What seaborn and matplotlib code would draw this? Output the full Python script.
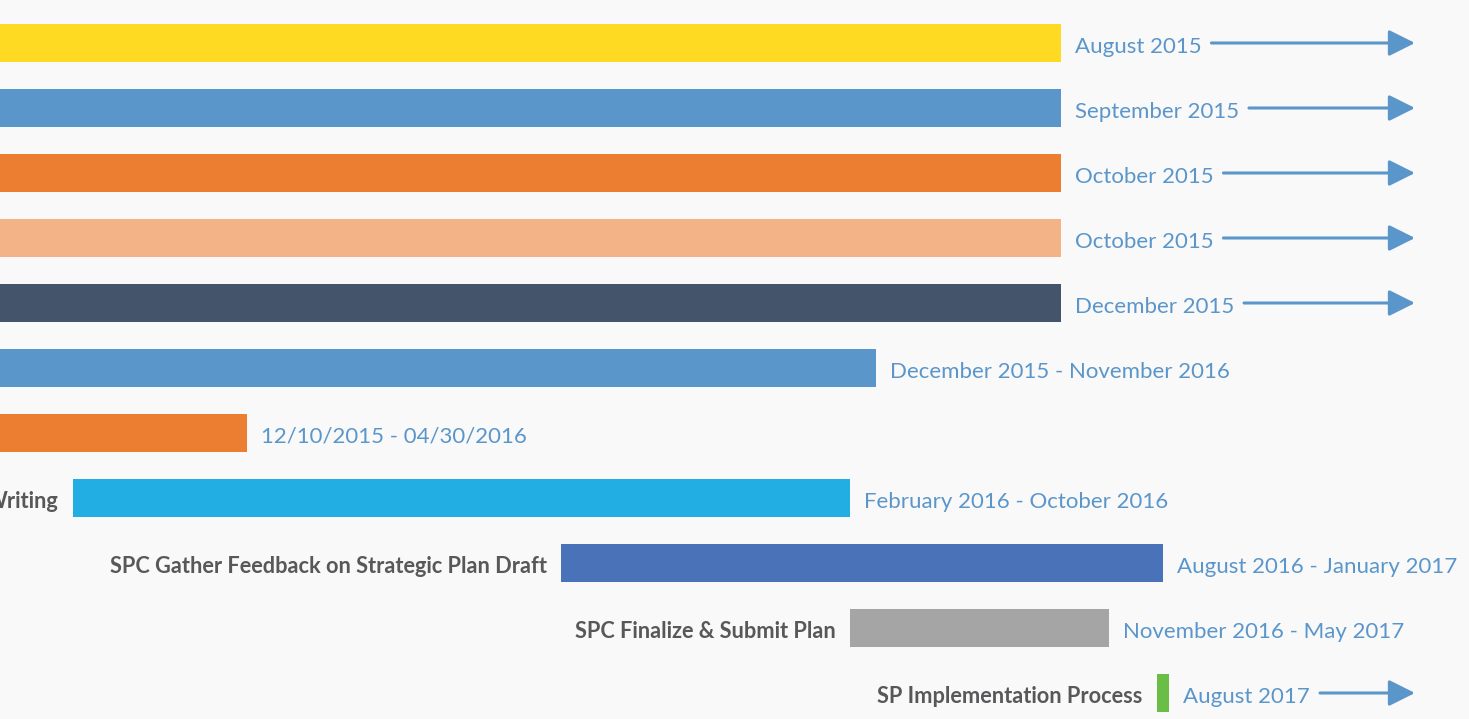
import numpy as np
import pandas as pd
import seaborn as sns
import matplotlib.pyplot as plt
from matplotlib.patches import FancyArrowPatch

# timeline in months (Jan 2015 = 0); view starts at 13
rows = list(range(11))
starts = [7.0, 8.0, 9.0, 9.0, 11.0, 11.0, 11.3, 13.76, 18.84, 21.85, 25.05]
ends = [24.05, 24.05, 24.05, 24.05, 24.05, 22.12, 15.57, 21.85, 25.11, 24.55, 25.18]
tasks = ["", "", "", "", "", "", "", "Writing",
         "SPC Gather Feedback on Strategic Plan Draft",
         "SPC Finalize & Submit Plan",
         "SP Implementation Process"]
dates = ["August 2015", "September 2015", "October 2015", "October 2015",
         "December 2015", "December 2015 - November 2016",
         "12/10/2015 - 04/30/2016", "February 2016 - October 2016",
         "August 2016 - January 2017", "November 2016 - May 2017",
         "August 2017"]
ongoing = [True, True, True, True, True, False, False, False, False, False, True]
colors = ["#FEDA22", "#5B96CB", "#EC7E32", "#F4B287", "#44546A", "#5B96CB",
          "#EC7E32", "#22AEE3", "#4A72B8", "#A5A5A5", "#6ABE45"]

df = pd.DataFrame({"row": rows, "start": starts, "end": ends})

sns.set_style("white")
plt.rcParams["font.family"] = ["Lato", "DejaVu Sans"]

fig = plt.figure(figsize=(14.69, 7.19), dpi=100)
fig.patch.set_facecolor("#F9F9F9")
ax = fig.add_axes([0, 0, 1, 1])
ax.set_facecolor("#F9F9F9")

sns.barplot(data=df, x="end", y="row", hue="row", orient="h",
            palette=colors, legend=False, width=0.57, ax=ax, saturation=1)

# turn the plain bars into gantt spans
for p, s, e in zip(ax.patches, starts, ends):
    p.set_x(s)
    p.set_width(e - s)
    p.set_linewidth(0)

x0 = 13.0
ax.set_xlim(x0, x0 + 1469 / 96)
ax.set_ylim(676 / 65, -43 / 65)
ax.axis("off")

text_c = "#5B96CB"
gap = 14 / 96
labels = []
for i in rows:
    t = ax.text(ends[i] + gap, i + 0.06, dates[i], va="center", ha="left",
                fontsize=16, color=text_c)
    labels.append(t)
    if tasks[i]:
        ax.text(starts[i] - gap, i + 0.05, tasks[i], va="center", ha="right",
                fontsize=15.7, color="#58585A", fontweight="bold")

fig.canvas.draw()
inv = ax.transData.inverted()
arrow_end = x0 + 1415 / 96
for i in rows:
    if not ongoing[i]:
        continue
    bb = labels[i].get_window_extent()
    xs = inv.transform((bb.x1, 0))[0] + 10 / 96
    arr = FancyArrowPatch((xs, i), (arrow_end, i),
                          arrowstyle="-|>,head_length=1.0,head_width=0.5",
                          mutation_scale=16, color=text_c, lw=2.2,
                          shrinkA=0, shrinkB=0)
    ax.add_patch(arr)

fig.savefig("out.png", dpi=100, facecolor=fig.get_facecolor())
